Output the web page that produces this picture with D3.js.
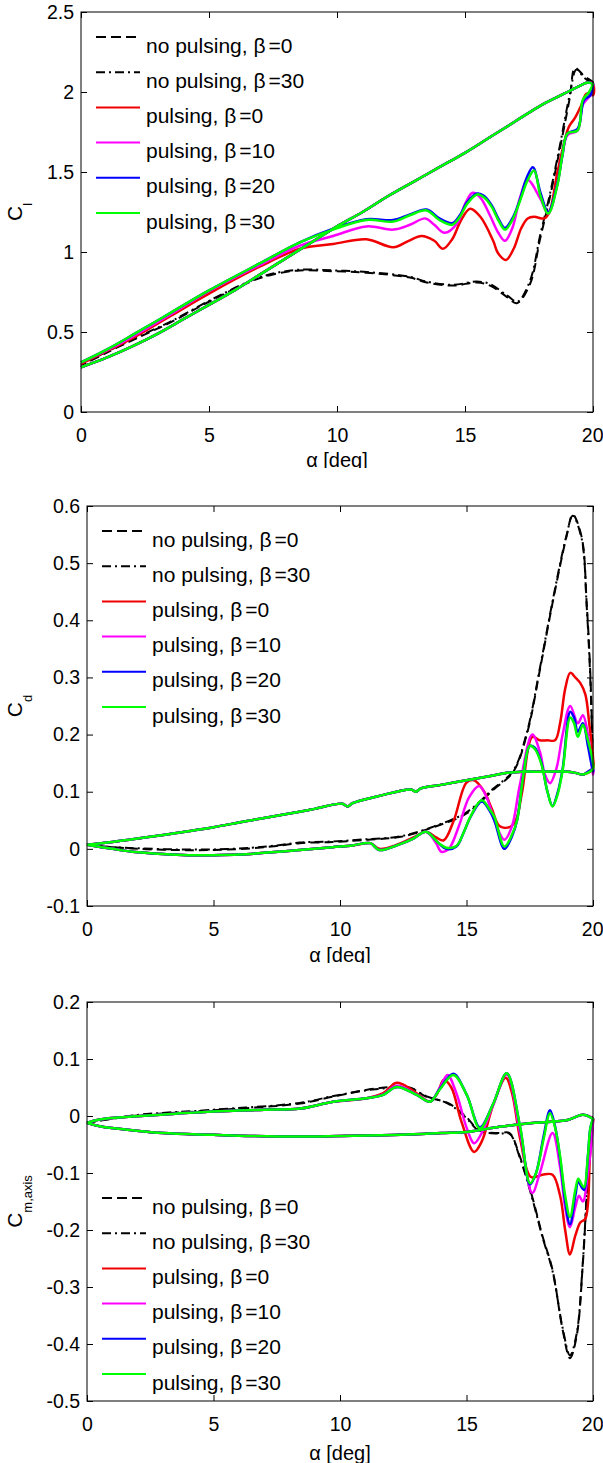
<!DOCTYPE html>
<html>
<head>
<meta charset="utf-8">
<script src="https://cdn.jsdelivr.net/npm/d3@7"></script>
<style>
  body { margin: 0; background: #fff; }
  svg { display: block; font-family: "Liberation Sans", Arial, sans-serif; }
</style>
</head>
<body>
<div id="chart"></div>
<script>
/* DATA - [alpha, coefficient] pairs */

var xTicks = [0, 5, 10, 15, 20];
var clTicks = [0, 0.5, 1, 1.5, 2, 2.5];
var cdTicks = [-0.1, 0, 0.1, 0.2, 0.3, 0.4, 0.5, 0.6];
var cmTicks = [-0.5, -0.4, -0.3, -0.2, -0.1, 0, 0.1, 0.2];

var seriesNames = ["no pulsing, β=0", "no pulsing, β=30", "pulsing, β=0", "pulsing, β=10", "pulsing, β=20", "pulsing, β=30"];

// ---- lift coefficient ----
// attached upstroke, shared by all runs
var clUp = [[0,0.28],[1,0.34],[2,0.41],[3,0.49],[4,0.58],[5,0.67],[6,0.76],[7,0.86],[8,0.96],[9,1.06],[10,1.16],[11,1.25],[12,1.35],[13,1.44],[14,1.53],[15,1.62],[16,1.72],[17,1.82],[18,1.92],[18.5,1.96],[19,2.0],[19.5,2.04],[19.8,2.06],[20,2.05]];
// downstrokes
var clNoPulse0 = [[20,2.06],[19.65,2.1],[19.3,2.15],[19.1,1.97],[18.7,1.64],[18.3,1.33],[17.93,1.08],[17.54,0.80],[17.02,0.68],[16.63,0.72],[15.98,0.79],[15.46,0.81],[14.54,0.79],[13.5,0.81],[12.85,0.84],[11.16,0.87],[9.86,0.88],[8.55,0.885],[7.5,0.86],[6.7,0.82],[5.5,0.73],[4.65,0.66],[3.5,0.56],[2.7,0.50],[1.5,0.41],[0.74,0.35],[0,0.29]];
var clNoPulse30 = [[20,2.05],[19.65,2.09],[19.35,2.14],[19.1,1.99],[18.7,1.66],[18.3,1.35],[17.93,1.10],[17.54,0.82],[17.05,0.69],[16.63,0.73],[15.98,0.80],[15.46,0.815],[14.54,0.795],[13.5,0.815],[12.85,0.845],[11.16,0.875],[9.86,0.885],[8.55,0.89],[7.5,0.865],[6.7,0.825],[5.5,0.735],[4.65,0.665],[3.5,0.565],[2.7,0.505],[1.5,0.415],[0.74,0.355],[0,0.29]];
var clPulse0 = [[20,1.98],[19.75,1.99],[19.55,1.92],[19.3,1.84],[19.05,1.78],[18.9,1.70],[18.6,1.49],[18.3,1.25],[18.1,1.21],[17.7,1.22],[17.45,1.21],[17.2,1.15],[16.9,1.02],[16.6,0.95],[16.3,0.99],[16.1,1.07],[15.6,1.22],[15.2,1.27],[14.85,1.2],[14.5,1.08],[14.14,1.02],[13.8,1.07],[13.3,1.10],[12.8,1.07],[12.2,1.03],[11.15,1.08],[9.85,1.05],[8.55,1.02],[7,0.91],[5,0.74],[3.5,0.60],[2,0.46],[1,0.38],[0,0.30]];
var clPulse10 = [[20,2.03],[19.9,1.98],[19.6,1.92],[19.4,1.76],[19.0,1.73],[18.8,1.6],[18.6,1.42],[18.25,1.24],[17.95,1.33],[17.45,1.45],[17.15,1.34],[16.85,1.15],[16.56,1.07],[16.3,1.12],[16.0,1.22],[15.6,1.34],[15.3,1.37],[15.0,1.30],[14.7,1.18],[14.2,1.12],[13.8,1.17],[13.45,1.21],[12.85,1.17],[12.2,1.14],[11.15,1.16],[9.85,1.10],[8.55,1.04],[7,0.92],[5,0.755],[3.5,0.61],[2,0.47],[1,0.385],[0,0.31]];
var clPulse20 = [[20,2.05],[19.9,1.98],[19.65,1.95],[19.4,1.77],[19.0,1.74],[18.8,1.6],[18.6,1.42],[18.25,1.25],[17.95,1.37],[17.65,1.53],[17.4,1.46],[17.15,1.33],[16.85,1.21],[16.56,1.15],[16.3,1.21],[16.05,1.29],[15.75,1.35],[15.47,1.365],[15.08,1.31],[14.8,1.23],[14.5,1.18],[14.0,1.21],[13.5,1.265],[12.85,1.235],[12.2,1.20],[11.15,1.205],[9.85,1.145],[8.55,1.06],[7,0.93],[5,0.76],[3.5,0.62],[2,0.48],[1,0.39],[0,0.31]];
var clPulse30 = [[20,2.05],[19.85,2.0],[19.6,1.95],[19.4,1.76],[19.0,1.74],[18.8,1.6],[18.6,1.41],[18.25,1.24],[17.95,1.35],[17.7,1.51],[17.45,1.45],[17.15,1.32],[16.85,1.2],[16.56,1.14],[16.3,1.2],[16.05,1.28],[15.75,1.34],[15.47,1.36],[15.08,1.30],[14.8,1.22],[14.5,1.17],[14.0,1.20],[13.5,1.26],[12.85,1.23],[12.2,1.19],[11.15,1.20],[9.85,1.14],[8.55,1.06],[7,0.93],[5,0.76],[3.5,0.62],[2,0.48],[1,0.39],[0,0.31]];

// ---- drag coefficient ----
var cdHigh = [[20,0.14],[19.6,0.13],[19.3,0.133],[19,0.135],[18,0.135],[17.2,0.135],[16.6,0.133],[16,0.128],[15,0.12],[14,0.112],[13.2,0.106],[13.0,0.100],[12.8,0.104],[11.5,0.092],[10.5,0.08],[10.3,0.074],[10.1,0.079],[9,0.07],[8.4,0.065],[7,0.054],[6,0.046],[5,0.038],[4,0.031],[2.5,0.021],[1,0.012],[0,0.007]];
var cdLowStart = [[0,0.007],[1,0.0],[1.8,-0.005],[3,-0.009],[4,-0.011],[5,-0.011],[6,-0.01],[7,-0.007],[8.4,-0.002],[9.7,0.003],[10.5,0.006],[11.2,0.01]];
var cdNoPulse0 = [[0,0.007],[1,0.003],[2,0.0],[3.5,-0.002],[5,-0.002],[6.5,0.001],[7.5,0.005],[8.4,0.01],[9.7,0.012],[11.1,0.016],[12.4,0.021],[13.7,0.038],[15,0.062],[16.05,0.103],[16.85,0.135],[17.4,0.203],[17.9,0.313],[18.4,0.43],[18.95,0.546],[19.2,0.585],[19.55,0.546],[19.75,0.43],[19.9,0.3],[20,0.14]];
var cdNoPulse30 = [[0,0.007],[1,0.003],[2,0.001],[3.5,-0.001],[5,-0.001],[6.5,0.002],[7.5,0.006],[8.4,0.011],[9.7,0.013],[11.1,0.017],[12.4,0.022],[13.7,0.039],[15,0.064],[16.05,0.105],[16.85,0.137],[17.4,0.206],[17.9,0.316],[18.4,0.433],[18.95,0.548],[19.2,0.583],[19.55,0.543],[19.75,0.425],[19.9,0.29],[20,0.14]];
var cdPulse0 = [[11.55,0.0],[12.3,0.008],[12.9,0.02],[13.4,0.03],[13.8,0.02],[14.1,0.015],[14.5,0.05],[15.0,0.116],[15.3,0.12],[15.7,0.1],[16.0,0.07],[16.3,0.04],[16.7,0.038],[16.95,0.05],[17.2,0.10],[17.6,0.196],[17.9,0.19],[18.2,0.19],[18.5,0.19],[18.7,0.22],[18.9,0.28],[19.1,0.308],[19.3,0.30],[19.5,0.29],[19.7,0.27],[19.85,0.22],[20,0.16]];
var cdPulse10 = [[11.55,-0.002],[12.3,0.007],[12.9,0.018],[13.4,0.03],[13.8,0.01],[14.0,-0.005],[14.3,0.0],[14.7,0.04],[15.1,0.09],[15.5,0.11],[15.8,0.09],[16.1,0.05],[16.5,0.016],[16.8,0.04],[17.1,0.11],[17.6,0.2],[17.9,0.17],[18.1,0.13],[18.3,0.115],[18.55,0.14],[18.8,0.2],[19.1,0.25],[19.4,0.22],[19.6,0.234],[19.8,0.2],[20,0.13]];
var cdPulse20 = [[11.55,-0.002],[12.3,0.007],[12.9,0.018],[13.4,0.03],[13.9,0.01],[14.2,0.0],[14.6,0.004],[14.9,0.03],[15.15,0.055],[15.6,0.083],[15.9,0.068],[16.1,0.05],[16.5,0.0],[16.8,0.022],[17.0,0.05],[17.25,0.13],[17.5,0.18],[17.7,0.177],[17.95,0.152],[18.2,0.1],[18.4,0.075],[18.6,0.098],[18.8,0.14],[19.1,0.24],[19.25,0.23],[19.4,0.205],[19.6,0.22],[19.8,0.18],[20,0.135]];
var cdPulse30 = [[11.55,-0.002],[12.3,0.007],[12.9,0.018],[13.4,0.03],[13.9,0.01],[14.2,0.002],[14.6,0.005],[14.9,0.03],[15.15,0.056],[15.6,0.085],[15.9,0.07],[16.1,0.056],[16.5,0.004],[16.8,0.025],[17.0,0.05],[17.25,0.13],[17.5,0.18],[17.7,0.175],[17.95,0.15],[18.2,0.10],[18.4,0.074],[18.6,0.095],[18.8,0.137],[19.1,0.23],[19.25,0.22],[19.4,0.196],[19.6,0.217],[19.8,0.19],[20,0.15]];

// ---- pitching moment coefficient ----
var cmLow = [[20,-0.005],[19.6,0.002],[19,-0.007],[17.7,-0.012],[16.3,-0.019],[15,-0.028],[14,-0.03],[12.4,-0.033],[10,-0.035],[8.4,-0.036],[6.5,-0.035],[5,-0.033],[3,-0.03],[1.8,-0.025],[0.5,-0.018],[0,-0.012]];
var cmHighStart = [[0,-0.012],[0.5,-0.006],[1.8,-0.001],[3.5,0.004],[5,0.008],[7,0.011],[8.42,0.013]];
var cmNoPulse0 = [[0,-0.012],[1.8,0.0],[5,0.01],[8.42,0.022],[9.74,0.034],[11.4,0.048],[12.75,0.05],[13.4,0.034],[14.3,0.022],[15.0,-0.002],[15.5,-0.025],[16.3,-0.03],[16.7,-0.03],[17.1,-0.07],[17.6,-0.142],[18.0,-0.21],[18.4,-0.27],[18.8,-0.375],[19.09,-0.425],[19.35,-0.387],[19.6,-0.258],[19.8,-0.106],[20,-0.007]];
var cmNoPulse30 = [[0,-0.012],[1.8,0.001],[5,0.011],[8.42,0.023],[9.74,0.035],[11.4,0.047],[12.75,0.049],[13.4,0.035],[14.3,0.021],[15.0,-0.004],[15.5,-0.026],[16.3,-0.031],[16.7,-0.031],[17.1,-0.072],[17.6,-0.145],[18.0,-0.212],[18.4,-0.272],[18.8,-0.372],[19.09,-0.42],[19.35,-0.383],[19.6,-0.255],[19.8,-0.104],[20,-0.007]];
var cmPulse0 = [[9.74,0.025],[11.05,0.031],[11.71,0.04],[12.2,0.058],[12.5,0.055],[13.03,0.04],[13.56,0.025],[13.85,0.04],[14.1,0.063],[14.4,0.05],[14.8,-0.01],[15.3,-0.063],[15.6,-0.045],[16.06,0.02],[16.55,0.067],[16.8,0.04],[17.12,-0.04],[17.55,-0.107],[18.0,-0.103],[18.4,-0.103],[18.7,-0.14],[18.9,-0.2],[19.09,-0.243],[19.3,-0.21],[19.5,-0.187],[19.7,-0.18],[19.88,-0.07],[20,-0.01]];
var cmPulse10 = [[9.74,0.025],[11.05,0.031],[11.71,0.038],[12.24,0.053],[13.03,0.038],[13.56,0.025],[13.95,0.05],[14.25,0.072],[14.6,0.04],[15.0,-0.02],[15.3,-0.048],[15.6,-0.03],[16.06,0.02],[16.59,0.073],[17.12,-0.03],[17.6,-0.135],[17.9,-0.1],[18.4,-0.03],[18.7,-0.09],[18.9,-0.16],[19.09,-0.195],[19.3,-0.16],[19.45,-0.14],[19.6,-0.15],[19.8,-0.1],[20,-0.01]];
var cmPulse20 = [[9.74,0.025],[11.05,0.031],[11.71,0.037],[12.24,0.051],[13.03,0.037],[13.56,0.025],[13.95,0.048],[14.48,0.074],[15.01,0.037],[15.53,-0.02],[16.06,0.022],[16.59,0.075],[17.12,-0.02],[17.51,-0.12],[17.75,-0.1],[18.05,-0.035],[18.3,0.01],[18.5,-0.018],[18.7,-0.075],[18.9,-0.15],[19.09,-0.19],[19.3,-0.14],[19.42,-0.115],[19.55,-0.125],[19.65,-0.13],[19.8,-0.07],[19.9,-0.02],[20,-0.005]];
var cmPulse30 = [[9.74,0.025],[11.05,0.031],[11.71,0.037],[12.24,0.051],[13.03,0.037],[13.56,0.025],[13.95,0.047],[14.48,0.072],[15.01,0.037],[15.53,-0.022],[16.06,0.022],[16.59,0.075],[17.12,-0.019],[17.51,-0.118],[17.75,-0.1],[18.05,-0.04],[18.3,0.005],[18.5,-0.02],[18.7,-0.071],[18.9,-0.14],[19.09,-0.177],[19.3,-0.13],[19.42,-0.11],[19.55,-0.12],[19.65,-0.125],[19.8,-0.07],[19.9,-0.02],[20,-0.005]];

/* STYLES */
var lineStyles = [
  {color: "#000", dash: "9,5", legendDash: "10,5", width: 2},
  {color: "#000", dash: "9,4,2,4", legendDash: "9,4,2,4", width: 2},
  {color: "#f00000", dash: null, width: 2.5},
  {color: "#ff00ff", dash: null, width: 2.5},
  {color: "#0000ff", dash: null, width: 2.5},
  {color: "#00ff00", dash: null, width: 2.5}
];

/* PANELS: each series is a closed hysteresis path */
var panels = [
  {id: "cl", left: 81, right: 593, top: 12, bottom: 412, clipTop: 0, cut: 468, labelBase: 467,
   yDomain: [0, 2.5], yTicks: clTicks, ylab: "C", ysub: "l",
   legendTop: 37,
   series: [clUp.concat(clNoPulse0), clUp.concat(clNoPulse30), clUp.concat(clPulse0),
            clUp.concat(clPulse10), clUp.concat(clPulse20), clUp.concat(clPulse30)]},
  {id: "cd", left: 87, right: 593, top: 506, bottom: 906, clipTop: 470, cut: 963, labelBase: 962,
   yDomain: [-0.1, 0.6], yTicks: cdTicks, ylab: "C", ysub: "d",
   legendTop: 531,
   series: [cdNoPulse0.concat(cdHigh), cdNoPulse30.concat(cdHigh),
            cdLowStart.concat(cdPulse0, cdHigh), cdLowStart.concat(cdPulse10, cdHigh),
            cdLowStart.concat(cdPulse20, cdHigh), cdLowStart.concat(cdPulse30, cdHigh)]},
  {id: "cm", left: 87, right: 593, top: 1002, bottom: 1401, clipTop: 965, cut: 1463, labelBase: 1460,
   yDomain: [-0.5, 0.2], yTicks: cmTicks, ylab: "C", ysub: "m,axis",
   legendTop: 1198,
   series: [cmNoPulse0.concat(cmLow), cmNoPulse30.concat(cmLow),
            cmHighStart.concat(cmPulse0, cmLow), cmHighStart.concat(cmPulse10, cmLow),
            cmHighStart.concat(cmPulse20, cmLow), cmHighStart.concat(cmPulse30, cmLow)]}
];

var svg = d3.select("#chart").append("svg")
  .attr("width", 603)
  .attr("height", 1463);

svg.append("rect").attr("width", 603).attr("height", 1463).attr("fill", "#fff");

var defs = svg.append("defs");

panels.forEach(function(p) {
  defs.append("clipPath").attr("id", p.id + "-clip")
    .append("rect")
    .attr("x", 0).attr("y", p.clipTop)
    .attr("width", 603).attr("height", p.cut - p.clipTop);

  var g = svg.append("g").attr("clip-path", "url(#" + p.id + "-clip)");

  var x = d3.scaleLinear().domain([0, 20]).range([p.left, p.right]);
  var y = d3.scaleLinear().domain(p.yDomain).range([p.bottom, p.top]);
  var fmt = function(d) { return String(d); };

  // axes, ticks pointing inward
  var axB = g.append("g")
    .attr("transform", "translate(0," + p.bottom + ")")
    .call(d3.axisBottom(x).tickValues(xTicks).tickFormat(fmt).tickSizeInner(-6).tickSizeOuter(0).tickPadding(16));
  var axL = g.append("g")
    .attr("transform", "translate(" + p.left + ",0)")
    .call(d3.axisLeft(y).tickValues(p.yTicks).tickFormat(fmt).tickSizeInner(-6).tickSizeOuter(0).tickPadding(7));
  g.append("g")
    .attr("transform", "translate(0," + p.top + ")")
    .call(d3.axisTop(x).tickValues(xTicks).tickFormat("").tickSizeInner(-6).tickSizeOuter(0));
  g.append("g")
    .attr("transform", "translate(" + p.right + ",0)")
    .call(d3.axisRight(y).tickValues(p.yTicks).tickFormat("").tickSizeInner(-6).tickSizeOuter(0));

  g.selectAll(".domain").remove();
  g.selectAll(".tick line").attr("stroke", "#000");
  [axB, axL].forEach(function(a) {
    a.selectAll("text")
      .style("font-size", "19.5px")
      .style("font-family", "'Liberation Sans', Arial, sans-serif")
      .attr("fill", "#000");
  });
  // the last x label sits on the right edge of the picture
  axB.selectAll(".tick text").filter(function(d) { return d === 20; })
    .attr("text-anchor", "end").attr("dx", 10);

  // curves
  var line = d3.line()
    .x(function(d) { return x(d[0]); })
    .y(function(d) { return y(d[1]); })
    .curve(d3.curveCatmullRom.alpha(0.5));

  p.series.forEach(function(s, i) {
    var st = lineStyles[i];
    g.append("path")
      .datum(s)
      .attr("d", line)
      .attr("fill", "none")
      .attr("stroke", st.color)
      .attr("stroke-width", st.width)
      .attr("stroke-dasharray", st.dash)
      .attr("stroke-linejoin", "round");
  });

  // box
  g.append("rect")
    .attr("x", p.left).attr("y", p.top)
    .attr("width", p.right - p.left).attr("height", p.bottom - p.top)
    .attr("fill", "none").attr("stroke", "#000").attr("stroke-width", 1);

  // legend (no frame)
  seriesNames.forEach(function(name, i) {
    var st = lineStyles[i];
    var ly = p.legendTop + i * 35.2;
    g.append("line")
      .attr("x1", p.left + 15).attr("x2", p.left + 59)
      .attr("y1", ly).attr("y2", ly)
      .attr("stroke", st.color)
      .attr("stroke-width", 2)
      .attr("stroke-dasharray", st.legendDash || null);
    var parts = name.split("=");
    var t = g.append("text")
      .attr("x", p.left + 65).attr("y", ly + 15.5)
      .style("font-size", "21px")
      .attr("fill", "#000");
    t.append("tspan").text(parts[0]);
    t.append("tspan").attr("dx", 3).text("=" + parts[1]);
  });

  // x label
  g.append("text")
    .attr("x", (p.left + p.right) / 2)
    .attr("y", p.labelBase)
    .attr("text-anchor", "middle")
    .style("font-size", "20px")
    .text("α [deg]");

  // y label, rotated, with subscript
  var yl = g.append("text")
    .attr("transform", "translate(22," + ((p.top + p.bottom) / 2) + ") rotate(-90)")
    .attr("text-anchor", "middle")
    .style("font-size", "21px");
  yl.append("tspan").text(p.ylab);
  yl.append("tspan").attr("dy", 10).style("font-size", "13px").text(p.ysub);
});
</script>
</body>
</html>
